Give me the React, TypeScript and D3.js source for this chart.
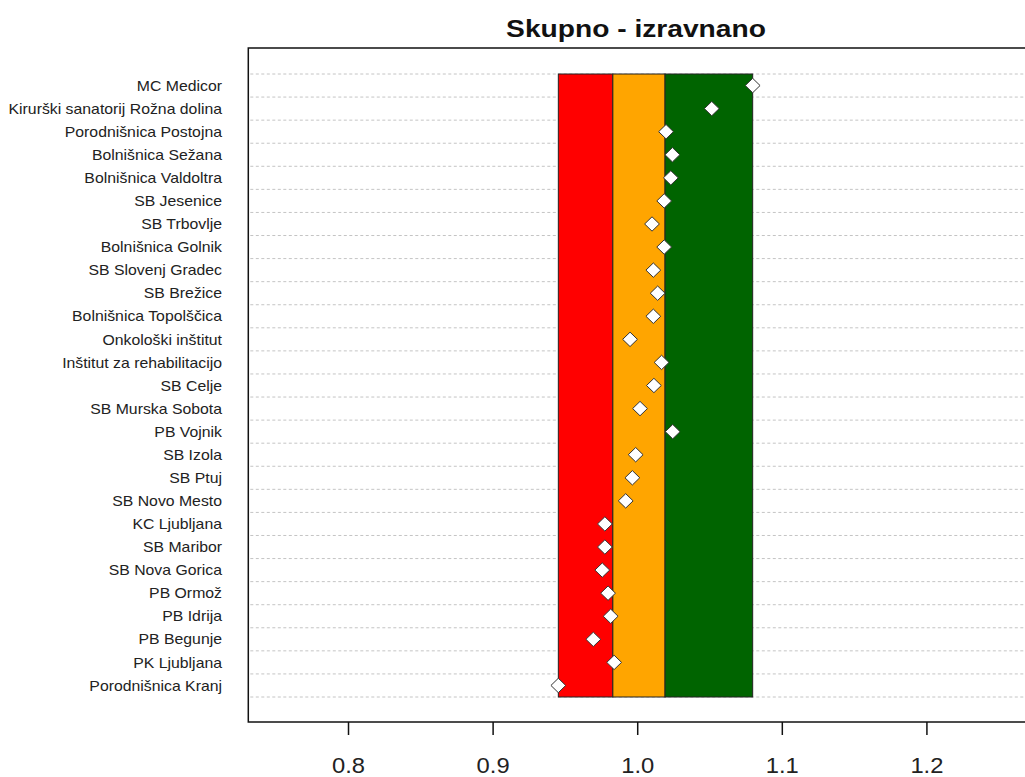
import React from "react";
import * as d3 from "d3";

const W = 1025;
const H = 777;

const categories = [
  "MC Medicor",
  "Kirurški sanatorij Rožna dolina",
  "Porodnišnica Postojna",
  "Bolnišnica Sežana",
  "Bolnišnica Valdoltra",
  "SB Jesenice",
  "SB Trbovlje",
  "Bolnišnica Golnik",
  "SB Slovenj Gradec",
  "SB Brežice",
  "Bolnišnica Topolščica",
  "Onkološki inštitut",
  "Inštitut za rehabilitacijo",
  "SB Celje",
  "SB Murska Sobota",
  "PB Vojnik",
  "SB Izola",
  "SB Ptuj",
  "SB Novo Mesto",
  "KC Ljubljana",
  "SB Maribor",
  "SB Nova Gorica",
  "PB Ormož",
  "PB Idrija",
  "PB Begunje",
  "PK Ljubljana",
  "Porodnišnica Kranj",
];

const values = [
  1.0795, 1.0512, 1.0196, 1.024, 1.0229, 1.0183, 1.0099, 1.0183, 1.0108,
  1.0138, 1.0108, 0.9947, 1.0165, 1.0112, 1.0016, 1.0242, 0.9986, 0.9963,
  0.9917, 0.9773, 0.9773, 0.9755, 0.9795, 0.9813, 0.9693, 0.9837, 0.9451,
];

// band limits: min, lower break, upper break, max
const bandBreaks = [0.9451, 0.9828, 1.0189, 1.0795];
const bandColors = ["#ff0000", "#ffa500", "#006400"];

const xTicks = [0.8, 0.9, 1.0, 1.1, 1.2];
const xLim = [0.7307, 1.28];

const title = "Skupno - izravnano";

export default function App() {
  const box = { left: 248.3, right: 1042.6, top: 48, bottom: 722 };
  const x = d3.scaleLinear().domain(xLim).range([box.left, box.right]);
  const y = d3
    .scaleBand<string>()
    .domain(categories)
    .range([74, 697])
    .paddingInner(0)
    .paddingOuter(0);
  const step = y.step();
  const gridYs = d3.range(categories.length + 1).map((i) => 74 + i * step);

  const diamond = "M0,-7.2 L7.4,0 L0,7.2 L-7.4,0 Z";

  return (
    <svg
      width={W}
      height={H}
      style={{ position: "absolute", left: 0, top: 0, background: "#fff" }}
      fontFamily="Liberation Sans, Arial, sans-serif"
    >
      <rect x={0} y={0} width={W} height={H} fill="#fff" />

      {/* title */}
      <text
        transform={`translate(636,29) scale(1.15,1)`}
        textAnchor="middle"
        dominantBaseline="central"
        fontSize={24.5}
        fontWeight="bold"
        fill="#111"
      >
        {title}
      </text>

      {/* dotted row separators */}
      {gridYs.map((gy, i) => (
        <line
          key={"g" + i}
          x1={box.left + 2}
          x2={box.right}
          y1={gy}
          y2={gy}
          stroke="#c4c4c4"
          strokeWidth={1}
          strokeDasharray="3,2.5"
        />
      ))}

      {/* colour band */}
      {bandColors.map((c, i) => (
        <rect
          key={"b" + i}
          x={x(bandBreaks[i])}
          y={74}
          width={x(bandBreaks[i + 1]) - x(bandBreaks[i])}
          height={697 - 74}
          fill={c}
          stroke="#222"
          strokeWidth={1}
        />
      ))}

      {/* points */}
      {categories.map((c, i) => (
        <path
          key={"p" + i}
          d={diamond}
          transform={`translate(${x(values[i])},${(y(c) as number) + step / 2})`}
          fill="#fff"
          stroke="#333"
          strokeWidth={1}
        />
      ))}

      {/* category labels */}
      {categories.map((c) => (
        <text
          key={"l" + c}
          transform={`translate(222,${(y(c) as number) + step / 2}) scale(1.13,1)`}
          textAnchor="end"
          dominantBaseline="central"
          fontSize={14}
          fill="#222"
        >
          {c}
        </text>
      ))}

      {/* frame */}
      <rect
        x={box.left}
        y={box.top}
        width={box.right - box.left}
        height={box.bottom - box.top}
        fill="none"
        stroke="#111"
        strokeWidth={1.5}
      />

      {/* x axis */}
      {xTicks.map((t) => (
        <g key={"t" + t} transform={`translate(${x(t)},0)`}>
          <line y1={box.bottom} y2={box.bottom + 13} stroke="#111" strokeWidth={1.5} />
          <text
            transform={`translate(0,765) scale(1.08,1)`}
            textAnchor="middle"
            dominantBaseline="central"
            fontSize={22}
            fill="#222"
          >
            {d3.format(".1f")(t)}
          </text>
        </g>
      ))}
    </svg>
  );
}
